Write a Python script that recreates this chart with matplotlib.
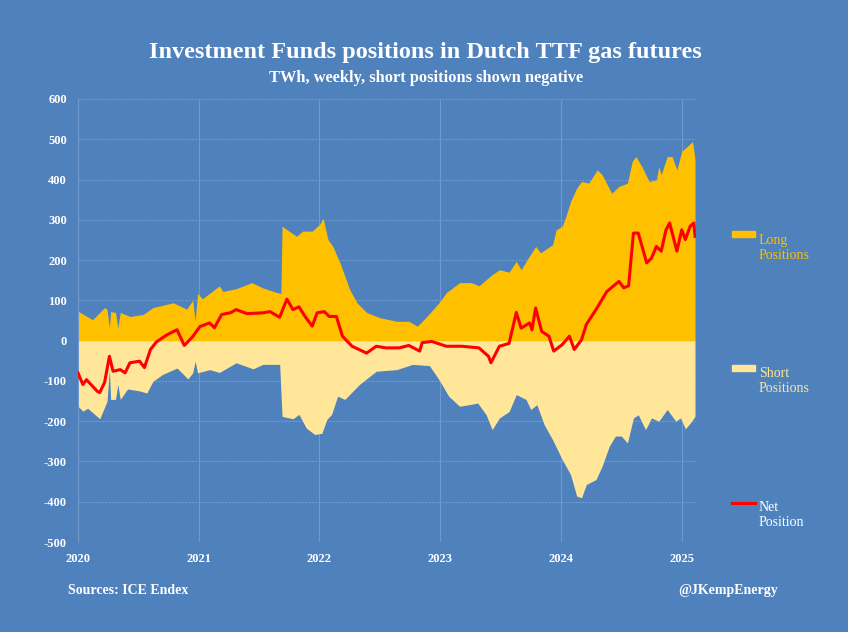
import matplotlib
matplotlib.use('Agg')
import matplotlib.pyplot as plt
from matplotlib.patches import Rectangle
from matplotlib.lines import Line2D

# decimal years / TWh
long_x = [2020.00, 2020.12, 2020.22, 2020.24, 2020.26, 2020.27, 2020.31, 2020.33, 2020.35, 2020.43,
          2020.54, 2020.62, 2020.79, 2020.90, 2020.95, 2020.97, 2020.99, 2021.03, 2021.11, 2021.17,
          2021.20, 2021.31, 2021.44, 2021.53, 2021.64, 2021.68, 2021.69, 2021.81, 2021.86, 2021.94,
          2022.00, 2022.03, 2022.07, 2022.11, 2022.17, 2022.25, 2022.31, 2022.39, 2022.50, 2022.64,
          2022.74, 2022.81, 2022.88, 2022.99, 2023.05, 2023.16, 2023.26, 2023.32, 2023.43, 2023.49,
          2023.57, 2023.63, 2023.67, 2023.72, 2023.79, 2023.83, 2023.93, 2023.96, 2024.01, 2024.04,
          2024.08, 2024.13, 2024.17, 2024.23, 2024.30, 2024.34, 2024.42, 2024.48, 2024.55, 2024.59,
          2024.62, 2024.67, 2024.73, 2024.79, 2024.81, 2024.83, 2024.88, 2024.92, 2024.96, 2025.00,
          2025.06, 2025.09, 2025.11]
long_v = [73, 52, 82, 78, 32, 72, 70, 32, 70, 60,
          65, 82, 94, 78, 100, 48, 117, 104, 122, 136,
          122, 129, 144, 131, 120, 117, 284, 259, 272, 272,
          288, 304, 251, 234, 193, 127, 94, 70, 57, 48,
          48, 36, 57, 94, 119, 144, 144, 136, 164, 176,
          170, 197, 176, 201, 234, 218, 238, 275, 284, 308,
          346, 379, 395, 391, 424, 412, 366, 383, 391, 445,
          457, 432, 395, 399, 432, 412, 457, 457, 424, 470,
          486, 494, 449]

short_x = [2020.00, 2020.04, 2020.08, 2020.18, 2020.24, 2020.26, 2020.27, 2020.31, 2020.33, 2020.35,
           2020.41, 2020.51, 2020.57, 2020.62, 2020.70, 2020.82, 2020.91, 2020.95, 2020.97, 2020.99,
           2021.09, 2021.17, 2021.31, 2021.45, 2021.53, 2021.67, 2021.69, 2021.78, 2021.83, 2021.89,
           2021.96, 2022.02, 2022.06, 2022.10, 2022.15, 2022.21, 2022.33, 2022.47, 2022.64, 2022.77,
           2022.91, 2022.99, 2023.07, 2023.16, 2023.24, 2023.31, 2023.38, 2023.43, 2023.49, 2023.57,
           2023.63, 2023.71, 2023.75, 2023.80, 2023.86, 2023.93, 2024.01, 2024.08, 2024.13, 2024.17,
           2024.21, 2024.29, 2024.34, 2024.40, 2024.45, 2024.50, 2024.55, 2024.60, 2024.64, 2024.70,
           2024.75, 2024.81, 2024.88, 2024.95, 2024.99, 2025.03, 2025.07, 2025.11]
short_v = [-163, -175, -168, -194, -151, -72, -146, -146, -109, -146,
           -120, -125, -130, -101, -84, -68, -95, -80, -51, -80,
           -72, -79, -55, -70, -59, -59, -188, -194, -183, -217,
           -233, -230, -196, -183, -138, -146, -109, -76, -72, -59,
           -62, -97, -138, -163, -159, -155, -184, -221, -192, -176,
           -134, -146, -171, -159, -208, -246, -295, -333, -386, -390,
           -357, -345, -312, -262, -237, -237, -254, -192, -184, -221,
           -192, -200, -171, -200, -192, -219, -205, -188]

net_x = [2020.00, 2020.04, 2020.07, 2020.16, 2020.18, 2020.22, 2020.26, 2020.29, 2020.35, 2020.39,
         2020.43, 2020.51, 2020.55, 2020.60, 2020.65, 2020.74, 2020.82, 2020.88, 2020.95, 2021.01,
         2021.09, 2021.13, 2021.19, 2021.26, 2021.31, 2021.40, 2021.53, 2021.59, 2021.67, 2021.73,
         2021.78, 2021.83, 2021.88, 2021.94, 2021.98, 2022.04, 2022.08, 2022.14, 2022.19, 2022.27,
         2022.39, 2022.47, 2022.55, 2022.66, 2022.74, 2022.83, 2022.85, 2022.93, 2023.05, 2023.18,
         2023.32, 2023.40, 2023.42, 2023.49, 2023.57, 2023.63, 2023.67, 2023.74, 2023.76, 2023.79,
         2023.84, 2023.90, 2023.94, 2024.01, 2024.07, 2024.11, 2024.17, 2024.21, 2024.29, 2024.34,
         2024.38, 2024.48, 2024.52, 2024.56, 2024.60, 2024.64, 2024.71, 2024.75, 2024.79, 2024.83,
         2024.87, 2024.90, 2024.96, 2025.00, 2025.03, 2025.07, 2025.10, 2025.11]
net_v = [-80, -109, -97, -126, -129, -104, -39, -76, -72, -80,
         -55, -51, -67, -22, -3, 15, 27, -12, 10, 35,
         44, 32, 65, 69, 77, 67, 69, 72, 58, 103,
         77, 84, 60, 36, 69, 72, 60, 60, 11, -14,
         -31, -14, -18, -18, -12, -26, -5, -2, -14, -14,
         -18, -39, -55, -14, -7, 70, 31, 44, 27, 81,
         23, 11, -26, -10, 11, -22, 2, 40, 77, 102,
         122, 147, 131, 136, 267, 267, 193, 205, 234, 222,
         275, 292, 222, 275, 251, 284, 292, 259]

years = [2020, 2021, 2022, 2023, 2024, 2025]
y_ticks = list(range(-500, 601, 100))

BG = '#4f81bd'
LONG_C = '#ffc000'
SHORT_C = '#ffe699'
NET_C = '#ff0000'
GRID_C = '#7199cc'
SERIF = ['Liberation Serif', 'DejaVu Serif']

plt.rcParams['axes.unicode_minus'] = False

fig = plt.figure(figsize=(8.48, 6.32), dpi=100, facecolor=BG)
ax = fig.add_axes([0.092, 0.1424, 0.729, 0.701])
ax.set_facecolor(BG)

ax.fill_between(long_x, 0, long_v, color=LONG_C, linewidth=0, zorder=2)
ax.fill_between(short_x, short_v, 0, color=SHORT_C, linewidth=0, zorder=2)
ax.plot(net_x, net_v, color=NET_C, linewidth=2.2, zorder=3)

ax.set_xlim(2020, 2025.12)
ax.set_ylim(-500, 600)
ax.set_xticks(years)
ax.set_xticklabels([str(y) for y in years])
ax.set_yticks(y_ticks)
ax.xaxis.grid(True, color=GRID_C, linewidth=0.8, zorder=1)
ax.yaxis.grid(True, color=GRID_C, linewidth=0.8, linestyle=(0, (2, 1)), zorder=1)
for s in ['top', 'right', 'bottom']:
    ax.spines[s].set_visible(False)
ax.spines['left'].set_color(GRID_C)
ax.tick_params(length=0, colors='white', labelsize=9, pad=8)
for lab in ax.get_xticklabels() + ax.get_yticklabels():
    lab.set_family(SERIF)
    lab.set_fontweight('bold')

fig.text(0.502, 0.917, 'Investment Funds positions in Dutch TTF gas futures', ha='center', va='center',
         color='white', fontsize=17.5, fontweight='bold', family=SERIF)
fig.text(0.502, 0.877, 'TWh, weekly, short positions shown negative', ha='center', va='center',
         color='white', fontsize=11.8, fontweight='bold', family=SERIF)

fig.text(0.08, 0.065, 'Sources: ICE Endex', ha='left', va='center', color='white',
         fontsize=10, fontweight='bold', family=SERIF)
fig.text(0.917, 0.065, '@JKempEnergy', ha='right', va='center', color='white',
         fontsize=10, fontweight='bold', family=SERIF)

# legend on the right
fig.patches.append(Rectangle((0.863, 1 - 237 / 632), 0.027, 0.009, transform=fig.transFigure,
                             color=LONG_C))
fig.text(0.895, 1 - 234 / 632, 'Long\nPositions', ha='left', va='top', color=LONG_C,
         fontsize=10, family=SERIF, linespacing=1.2)
fig.patches.append(Rectangle((0.863, 1 - 371 / 632), 0.027, 0.009, transform=fig.transFigure,
                             color=SHORT_C))
fig.text(0.895, 1 - 367 / 632, 'Short\nPositions', ha='left', va='top', color=SHORT_C,
         fontsize=10, family=SERIF, linespacing=1.2)
fig.lines.append(Line2D([0.863, 0.890], [1 - 503 / 632, 1 - 503 / 632], transform=fig.transFigure,
                        color=NET_C, linewidth=2.2))
fig.text(0.895, 1 - 501 / 632, 'Net\nPosition', ha='left', va='top', color='white',
         fontsize=10, family=SERIF, linespacing=1.2)

plt.savefig('out.png', dpi=100, facecolor=BG)
